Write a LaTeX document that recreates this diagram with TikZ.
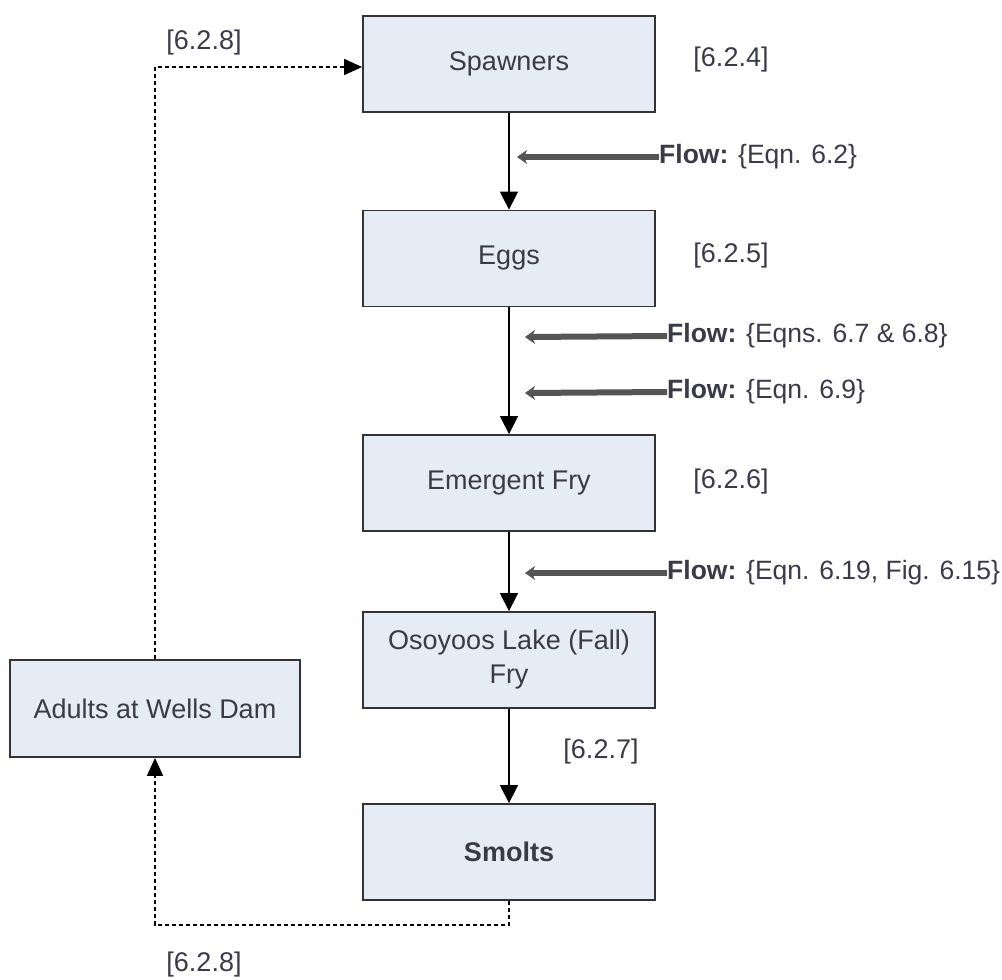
\documentclass[tikz,border=0pt]{standalone}
\usepackage{fontspec}
\setmainfont{Liberation Sans}
\usetikzlibrary{arrows.meta}
\definecolor{boxfill}{HTML}{E6ECF6}
\definecolor{boxline}{HTML}{333333}
\definecolor{flowgray}{HTML}{555555}
\definecolor{reftext}{HTML}{3A3A48}
\begin{document}
\begin{tikzpicture}[x=1pt,y=-1pt,
  stage/.style={draw=boxline, line width=1.8pt, fill=boxfill, minimum width=292pt, minimum height=96pt, inner sep=0pt, align=center, font=\fontsize{27}{34}\selectfont, text=reftext},
  ref/.style={font=\fontsize{27}{32}\selectfont, text=reftext, inner sep=0pt},
  flowlab/.style={font=\fontsize{26.5}{32}\selectfont, text=reftext, inner sep=0pt, anchor=west},
  main/.style={line width=1.5pt, -{Triangle[length=18pt,width=18pt]}},
  back/.style={line width=1.6pt, dash pattern=on 4pt off 3pt, -{Triangle[length=18pt,width=16pt]}},
  flowarr/.style={draw=flowgray, line width=6pt, -{Stealth[length=10pt,width=14pt,inset=3pt]}}
]
\useasboundingbox (0,0) rectangle (1002,980);

\node[stage] (spawn) at (509,64) {Spawners};
\node[stage] (eggs) at (509,258.5) {Eggs};
\node[stage] (fry) at (509,483) {Emergent Fry};
\node[stage] (lake) at (509,660) {Osoyoos Lake (Fall)\\Fry};
\node[stage, font=\fontsize{27}{34}\selectfont\bfseries] (smolt) at (509,852) {Smolts};
\node[stage, minimum width=290pt, minimum height=97pt] (adult) at (155,708.5) {Adults at Wells Dam};

\draw[main] (spawn) -- (eggs);
\draw[main] (eggs) -- (fry);
\draw[main] (fry) -- (lake);
\draw[main] (lake) -- (smolt);

\coordinate (tl) at (155,67);
\coordinate (bl) at (155,925);
\coordinate (br) at (509,925);
\draw[back] (adult.north) -- (tl) -- (spawn.west |- tl);
\draw[back] (smolt.south) -- (br) -- (bl) -- (adult.south);

\node[ref] (r1) at (204,43) {[6.2.8]};
\node[ref] (r2) at (731,60) {[6.2.4]};
\node[ref] (r3) at (731,256) {[6.2.5]};
\node[ref] (r4) at (731,482) {[6.2.6]};
\node[ref] (r5) at (601,752) {[6.2.7]};
\node[ref] (r6) at (204,965) {[6.2.8]};

\node[flowlab] (f1) at (659,157) {\textbf{Flow:} \{Eqn. 6.2\}};
\node[flowlab] (f2) at (667,336) {\textbf{Flow:} \{Eqns. 6.7 \& 6.8\}};
\node[flowlab] (f3) at (667,392) {\textbf{Flow:} \{Eqn. 6.9\}};
\node[flowlab] (f4) at (667,573) {\textbf{Flow:} \{Eqn. 6.19, Fig. 6.15\}};

\coordinate (a1) at (517,157);
\coordinate (a2) at (525,337);
\coordinate (a3) at (525,393);
\coordinate (a4) at (525,573);
\draw[flowarr] (f1.west) -- (a1);
\draw[flowarr] (f2.west) -- (a2);
\draw[flowarr] (f3.west) -- (a3);
\draw[flowarr] (f4.west) -- (a4);
\end{tikzpicture}
\end{document}
